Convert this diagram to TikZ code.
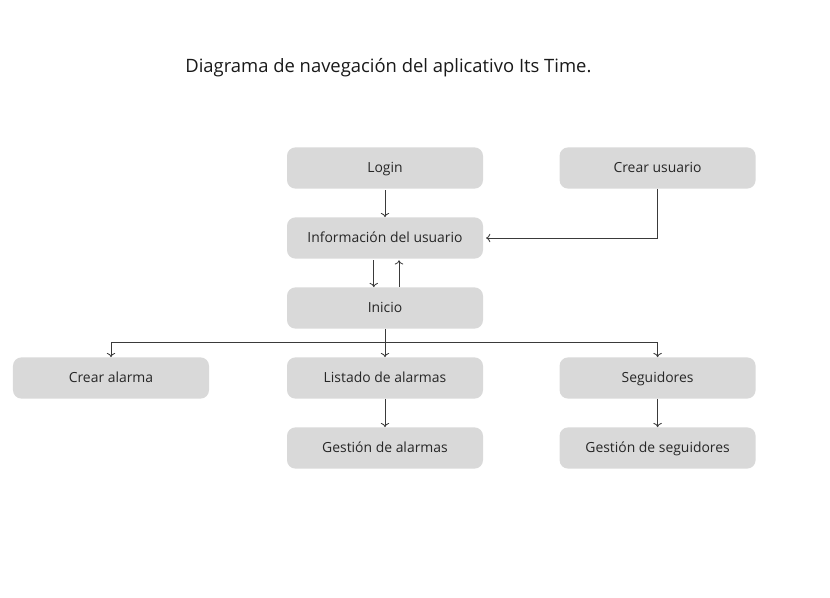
\documentclass[tikz,border=0pt]{standalone}
\usepackage{fontspec}
\setmainfont{Open Sans}
\usetikzlibrary{arrows.meta}
\definecolor{cajagris}{HTML}{D9D9D9}
\definecolor{textogris}{HTML}{262626}
\definecolor{lineagris}{HTML}{3A3A3A}
\begin{document}
\begin{tikzpicture}[
  caja/.style={fill=cajagris, rounded corners=6pt, minimum width=4.9cm, minimum height=1.03cm,
    text height=1.55ex, text depth=0.45ex, text=textogris, font=\fontsize{9.9}{12}\selectfont},
  flecha/.style={draw=lineagris, line width=0.6pt, -{To[length=3pt,width=6pt]}}]
\useasboundingbox (0,0) rectangle (20.75,-14.95);
\node[text=black!90, font=\fontsize{13.1}{15}\selectfont] (titulo) at (9.71,-1.7) {Diagrama de navegación del aplicativo Its Time.};
\node[caja] (login) at (9.625,-4.2) {Login};
\node[caja] (crearusuario) at (16.44,-4.2) {Crear usuario};
\node[caja] (info) at (9.625,-5.95) {Información del usuario};
\node[caja] (inicio) at (9.625,-7.7) {Inicio};
\node[caja] (crearalarma) at (2.775,-9.45) {Crear alarma};
\node[caja] (listado) at (9.625,-9.45) {Listado de alarmas};
\node[caja] (seguidores) at (16.44,-9.45) {Seguidores};
\node[caja] (gestionalarmas) at (9.625,-11.2) {Gestión de alarmas};
\node[caja] (gestionseguidores) at (16.44,-11.2) {Gestión de seguidores};
\coordinate (rama) at (9.625,-8.55);
\draw[flecha] ([yshift=-1pt]login.south) -- (info.north);
\draw[flecha] (crearusuario.south) |- ([xshift=2pt]info.east);
\draw[flecha] ([xshift=-0.28cm,yshift=-1pt]info.south) -- ([xshift=-0.28cm]inicio.north);
\draw[flecha] ([xshift=0.35cm]inicio.north) -- ([xshift=0.35cm,yshift=-1pt]info.south);
\draw[flecha] (inicio.south) -- (listado.north);
\draw[flecha] (rama) -| (crearalarma.north);
\draw[flecha] (rama) -| (seguidores.north);
\draw[flecha] (listado.south) -- (gestionalarmas.north);
\draw[flecha] (seguidores.south) -- (gestionseguidores.north);
\end{tikzpicture}
\end{document}
